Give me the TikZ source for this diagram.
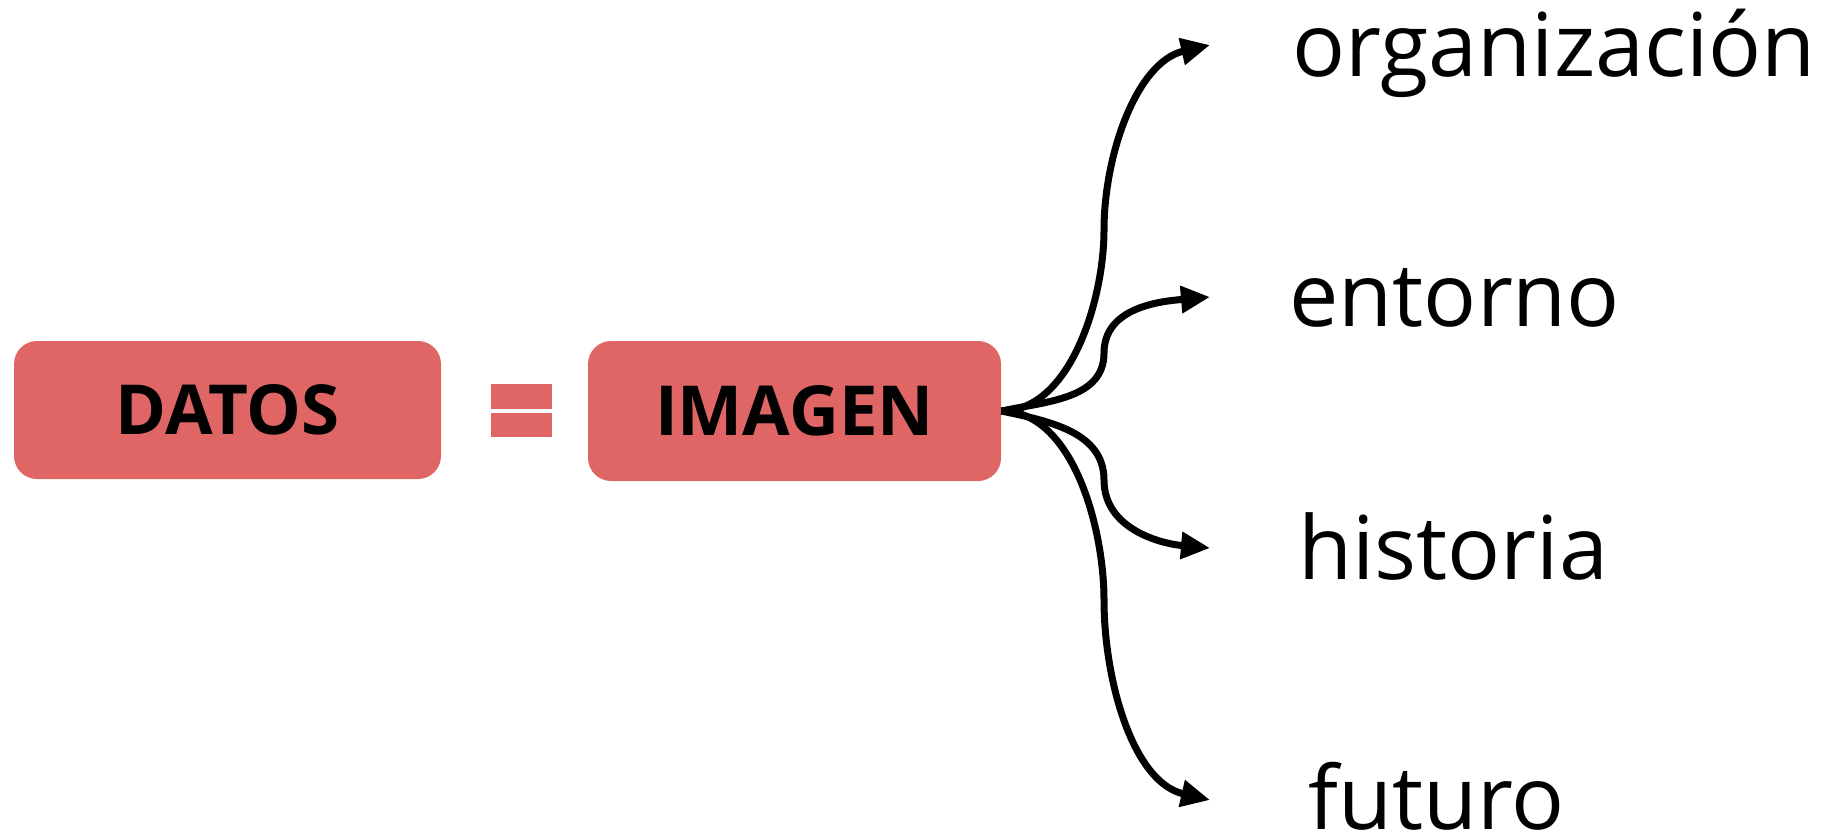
\documentclass[tikz,border=0pt]{standalone}
\usepackage{fontspec}
\setmainfont{Open Sans}
\usetikzlibrary{arrows.meta,positioning}
\definecolor{boxred}{HTML}{E06666}
\tikzset{
  box/.style = { fill=boxred, rounded corners=11.5pt, inner sep=0pt,
    font=\bfseries\fontsize{34.5}{40}\selectfont },
  lbl/.style = { anchor=base west, inner sep=0pt, font=\fontsize{44}{50}\selectfont },
  arr/.style = { -{Triangle[length=14.5pt,width=13pt]}, line width=3.5pt }
}
\begin{document}
\begin{tikzpicture}[x=0.5pt,y=-0.5pt]
  \useasboundingbox (0,0) rectangle (1826,837);
  % DATOS = IMAGEN
  \node[box, minimum width=213.5pt, minimum height=69pt] (datos) at (227.5,410) {DATOS};
  \node[box, minimum width=206.5pt, minimum height=70pt] (imagen) at (794.5,411) {IMAGEN};
  \fill[boxred] (491,384) rectangle (552,409);
  \fill[boxred] (491,413) rectangle (552,437);
  % what the image tells
  \node[lbl] (org) at (1292,76) {organización};
  \node[lbl] (ent) at (1289,326) {entorno};
  \node[lbl] (his) at (1298,579) {historia};
  \node[lbl] (fut) at (1308,829) {futuro};
  \coordinate (torg) at (1210,45);
  \coordinate (tent) at (1210,297);
  \coordinate (this) at (1210,548);
  \coordinate (tfut) at (1210,800);
  \draw[arr] (imagen.east) to[out=0,in=-90,looseness=0.85] (1104,230) to[out=90,in=193,looseness=0.9] (torg);
  \draw[arr] (imagen.east) to[out=12,in=-90] (1104,353) to[out=90,in=185] (tent);
  \draw[arr] (imagen.east) to[out=-12,in=90] (1104,480) to[out=-90,in=175] (this);
  \draw[arr] (imagen.east) to[out=0,in=90,looseness=0.85] (1104,600) to[out=-90,in=167,looseness=0.9] (tfut);
\end{tikzpicture}
\end{document}
